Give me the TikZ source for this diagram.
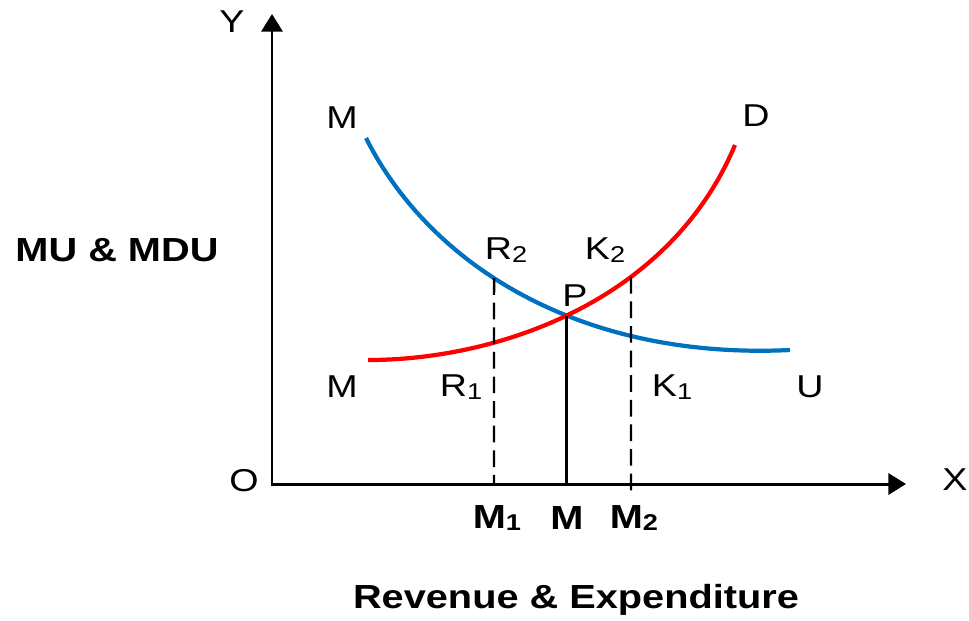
\documentclass[tikz,border=0pt]{standalone}
\usepackage{fontspec}
\setmainfont{Liberation Sans}
\usepackage{tikz}
\usetikzlibrary{
	arrows.meta,
	intersections
}
\usepackage{xcolor}
\definecolor{mublue}{RGB}{0,112,192}
\definecolor{mdred}{RGB}{255,0,0}
\newcommand{\lowidx}[1]{\raisebox{-0.15ex}{\fontsize{13}{13}\selectfont #1}}

\begin{document}
\begin{tikzpicture}[x=0.02cm,y=-0.02cm,>={Triangle[length=10pt,width=12pt]},
			lbl/.style={font=\fontsize{18}{20}\selectfont,xscale=1.19,transform shape,inner sep=0pt},
			blbl/.style={font=\fontsize{19}{21}\selectfont\bfseries,xscale=1.19,transform shape,inner sep=0pt},
			mu/.style={draw=mublue,line width=2.4pt},
			md/.style={draw=mdred,line width=2.4pt},
			guide/.style={line width=1.4pt,dash pattern=on 9.5pt off 4.5pt}]
			
			\useasboundingbox (0,0) rectangle (969,620);
			
			% axes
			\coordinate (o) at (272,484);
			\coordinate (ytip) at (272,14);
			\coordinate (xtip) at (906,484);
			\draw[<->,line width=1.7pt] (ytip) -- (o) -- (xtip);
			
			\node[lbl] (ylab) at (232,22) {Y};
			\node[lbl] (xlab) at (955,480) {X};
			\node[lbl] (olab) at (244,481) {O};
			
			% curves
			\path[mu,name path=mucurve] (366,138) .. controls (430,265) and (580,360) .. (790,350);
			\path[md,name path=mdcurve] (368,360) .. controls (500,360) and (670,300) .. (735,145);
			
			\path[name path=v1] (494,0) -- (494,484);
			\path[name path=v2] (631,0) -- (631,484);
			\path[name intersections={of=mucurve and mdcurve,by=p}];
			\path[name intersections={of=mucurve and v1,by=r2}];
			\path[name intersections={of=mdcurve and v1,by=r1}];
			\path[name intersections={of=mdcurve and v2,by=k2}];
			\path[name intersections={of=mucurve and v2,by=k1}];
			
			\coordinate (m1) at (494,484);
			\coordinate (m) at (p |- o);
			\coordinate (m2) at (631,494);
			
			\draw[guide] (r2) -- (m1);
			\draw[guide] (k2) -- (m2);
			\draw[line width=1.6pt] (p) -- (m);
			
			% labels
			\node[lbl] (mtop) at (342,118) {M};
			\node[lbl] (dlab) at (756,116) {D};
			\node[lbl] (r2lab) at (506,250) {R\lowidx{2}};
			\node[lbl] (k2lab) at (605,250) {K\lowidx{2}};
			\node[lbl] (plab) at (575,296) {P};
			\node[lbl] (mbot) at (342,387) {M};
			\node[lbl] (r1lab) at (461,387) {R\lowidx{1}};
			\node[lbl] (k1lab) at (672,387) {K\lowidx{1}};
			\node[lbl] (ulab) at (810,387) {U};
			
			\node[blbl] (ytitle) at (117,250) {MU \& MDU};
			\node[blbl] (m1lab) at (497,518) {M\lowidx{1}};
			\node[blbl] (mlab) at (567,518) {M};
			\node[blbl] (m2lab) at (634,518) {M\lowidx{2}};
			\node[blbl] (xtitle) at (576,600) {Revenue \& Expenditure};
			
		\end{tikzpicture}
\end{document}
